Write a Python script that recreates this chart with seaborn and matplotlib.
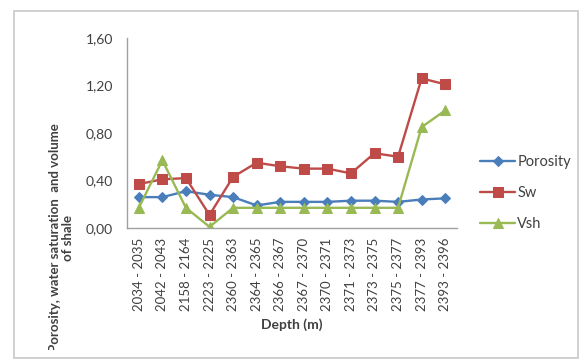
import matplotlib
matplotlib.use("Agg")
import matplotlib.pyplot as plt
import seaborn as sns
import pandas as pd
from matplotlib.patches import Rectangle
from matplotlib.transforms import Bbox

# depth intervals (m)
depths = ["2034 - 2035", "2042 - 2043", "2158 - 2164", "2223 - 2225", "2360 - 2363",
          "2364 - 2365", "2366 - 2367", "2367 - 2370", "2370 - 2371", "2371 - 2373",
          "2373 - 2375", "2375 - 2377", "2377 - 2393", "2393 - 2396"]
porosity = [0.26, 0.26, 0.31, 0.28, 0.26, 0.19, 0.22, 0.22, 0.22, 0.23, 0.23, 0.22, 0.24, 0.25]
sw = [0.37, 0.41, 0.42, 0.11, 0.43, 0.55, 0.52, 0.50, 0.50, 0.46, 0.63, 0.60, 1.26, 1.21]
vsh = [0.17, 0.57, 0.17, 0.01, 0.17, 0.17, 0.17, 0.17, 0.17, 0.17, 0.17, 0.17, 0.85, 0.99]
yticks = [0.0, 0.4, 0.8, 1.2, 1.6]
ytick_labels = ["0,00", "0,40", "0,80", "1,20", "1,60"]

series = {"Porosity": porosity, "Sw": sw, "Vsh": vsh}
colors = {"Porosity": "#4A7EBB", "Sw": "#BE4B48", "Vsh": "#98B954"}
markers = {"Porosity": "D", "Sw": "s", "Vsh": "^"}
msizes = {"Porosity": 5, "Sw": 7, "Vsh": 7}

rows = []
for name, vals in series.items():
    for i, v in enumerate(vals):
        rows.append({"pos": i, "depth": depths[i], "value": v, "series": name})
df = pd.DataFrame(rows)

sns.set_style("white")
plt.rcParams["font.family"] = ["Lato", "DejaVu Sans"]
grey = "#404040"

fig = plt.figure(figsize=(5.81, 3.6), dpi=100)

# chart frame
fig.patches.append(Rectangle((14 / 581, 1 - 358 / 360), 564 / 581, 347 / 360,
                             transform=fig.transFigure, fill=False,
                             edgecolor="#c8c8c8", linewidth=1.2, zorder=0))

ax = fig.add_axes([127 / 581, 1 - 228 / 360, 330 / 581, 190 / 360])
for name in series:
    sub = df[df["series"] == name]
    sns.lineplot(data=sub, x="pos", y="value", ax=ax, color=colors[name],
                 marker=markers[name], markersize=msizes[name],
                 markeredgecolor=colors[name], linewidth=1.7, label=name)

ax.set_xlim(-0.5, len(depths) - 0.5)
ax.set_ylim(0, 1.6)
ax.set_yticks(yticks)
ax.set_yticklabels(ytick_labels, fontsize=10, color=grey)
ax.set_xticks(range(len(depths)))
ax.set_xticklabels(depths, rotation=90, fontsize=9.5, color=grey)
ax.set_xticks([i - 0.5 for i in range(len(depths) + 1)], minor=True)
ax.tick_params(axis="x", which="major", length=0, pad=7)
ax.tick_params(axis="x", which="minor", length=5, color="#a0a0a0", direction="out")
ax.tick_params(axis="y", length=5, color="#a0a0a0", direction="out", pad=5)
for s in ["top", "right"]:
    ax.spines[s].set_visible(False)
for s in ["left", "bottom"]:
    ax.spines[s].set_color("#a0a0a0")
    ax.spines[s].set_linewidth(1.0)

ax.set_xlabel("Depth (m)", fontsize=10, fontweight="bold", color=grey, labelpad=5)
ax.set_ylabel("")

ylab = fig.text(62 / 581, 1 - 238 / 360, "Porosity, water saturation  and volume\nof shale",
                rotation=90, ha="center", va="center", fontsize=9.5,
                fontweight="bold", color=grey, multialignment="center",
                linespacing=1.1)
ylab.set_clip_box(Bbox.from_extents(15, 360 - 350, 581, 360))
ylab.set_clip_on(True)

leg = ax.legend(loc="center left", bbox_to_anchor=(1.03, 0.185), frameon=False,
                fontsize=10.5, handlelength=2.4, labelspacing=1.15, handletextpad=0.15)
for t in leg.get_texts():
    t.set_color(grey)

fig.savefig("out.png", dpi=100)
